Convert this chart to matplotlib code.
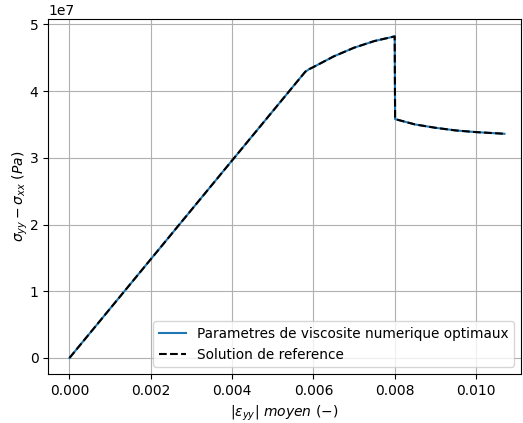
import numpy as np
import matplotlib
matplotlib.use("Agg")
import matplotlib.pyplot as plt

# strain / stress samples
eps = [0.0, 0.002, 0.004, 0.0058, 0.0059, 0.0060, 0.0065, 0.0070, 0.0075, 0.0080,
       0.00801, 0.0085, 0.0090, 0.0095, 0.0100, 0.0107]
sig_num = [0.0, 1.48e7, 2.96e7, 4.29e7, 4.33e7, 4.36e7, 4.52e7, 4.65e7, 4.75e7, 4.82e7,
           3.58e7, 3.50e7, 3.45e7, 3.41e7, 3.385e7, 3.36e7]
sig_ref = list(sig_num)

fig = plt.figure(figsize=(5.23, 4.23), dpi=100)
ax = fig.add_axes([0.092, 0.116, 0.904, 0.839])

ax.plot(eps, sig_num, color="#1f77b4", label="Parametres de viscosite numerique optimaux")
ax.plot(eps, sig_ref, "k--", label="Solution de reference")

ax.set_xlim(-0.000526, 0.011105)
ax.set_ylim(-0.24e7, 5.08e7)
ax.set_xticks([0.0, 0.002, 0.004, 0.006, 0.008, 0.010])
ax.grid(True)
ax.set_xlabel(r"$|\varepsilon_{yy}|$ $moyen$ $(-)$")
ax.set_ylabel(r"$\sigma_{yy}-\sigma_{xx}$ $(Pa)$", labelpad=0)
ax.legend(loc="lower right", fontsize=9.8)

fig.savefig("out.png", dpi=100)
